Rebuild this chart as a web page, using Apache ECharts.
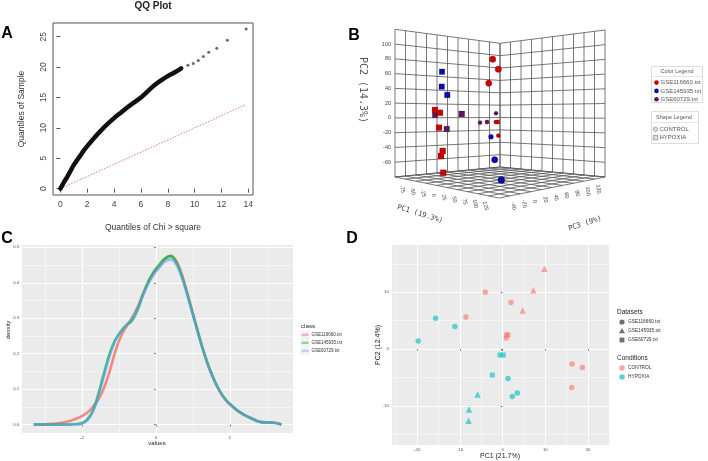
<!DOCTYPE html>
<html><head><meta charset="utf-8">
<script src="https://cdn.jsdelivr.net/npm/echarts@6.0.0/dist/echarts.min.js"></script>
<style>html,body{margin:0;padding:0;background:#fff}#c{width:708px;height:461px}</style>
</head><body><div id="c"></div>
<script>
// ---------------- DATA ----------------
// Panel A : QQ plot
const qqDenseX = [0,0.25,0.5,0.75,1,1.25,1.5,1.75,2,2.5,3,3.5,4,4.5,5,5.5,6,6.5,7,7.5,8,8.5,9];
const qqDenseY = [0,1.0,1.9,2.9,3.9,4.7,5.5,6.3,7.0,8.3,9.5,10.6,11.6,12.5,13.4,14.2,15.0,16.0,17.0,17.8,18.5,19.1,19.8];
const qqTailX = [9.5,9.9,10.27,10.65,11.05,11.65,12.44,13.84];
const qqTailY = [20.3,20.6,21.1,21.75,22.45,23.1,24.4,26.25];
const qqRefX = [0,13.84];
const qqRefY = [0,13.84];
const qqXTicks = [0,2,4,6,8,10,12,14];
const qqYTicks = [0,5,10,15,20,25];

// Panel B : 3D PCA
const b3dNames = ['GSE116660.txt','GSE145935.txt','GSE60729.txt'];
const b3dConditions = ['CONTROL','HYPOXIA'];
const b3dPC1 = [84,97.5,74.5,-60.2,-30.2,-54, -54.5,-42.5,-44.8,-36,-40,-34.5, -59.5,-72.5,-55.8, -79.7,-51.5,-15.7, 4,88.8,130, -62.8,-63.5,-50.2];
const b3dPC2 = [77.8,65.6,48.6,-6.2,-5.0,-26.6, 12.4,9.0,-11,-41.6,-48.6,-70.4, 7,-7,-5.6, 4.6,-13.6,8, -23.2,-44.2,-63.4, 65,44.4,33];
const b3dPC3 = [-20,-20,-20,100,80,100, -20,-20,-20,-20,-20,-20, 100,80,80, 0,0,0, 40,-20,-40, 0,0,0];
const b3dDataset = ['GSE116660.txt','GSE116660.txt','GSE116660.txt','GSE116660.txt','GSE116660.txt','GSE116660.txt',
  'GSE116660.txt','GSE116660.txt','GSE116660.txt','GSE116660.txt','GSE116660.txt','GSE116660.txt',
  'GSE60729.txt','GSE60729.txt','GSE60729.txt','GSE60729.txt','GSE60729.txt','GSE60729.txt',
  'GSE145935.txt','GSE145935.txt','GSE145935.txt','GSE145935.txt','GSE145935.txt','GSE145935.txt'];
const b3dCondition = ['CONTROL','CONTROL','CONTROL','CONTROL','CONTROL','CONTROL',
  'HYPOXIA','HYPOXIA','HYPOXIA','HYPOXIA','HYPOXIA','HYPOXIA',
  'CONTROL','CONTROL','CONTROL','HYPOXIA','HYPOXIA','HYPOXIA',
  'CONTROL','CONTROL','CONTROL','HYPOXIA','HYPOXIA','HYPOXIA'];
const b3dRangePC1 = [-100,150];
const b3dRangePC2 = [-80,120];
const b3dRangePC3 = [-60,140];
const b3dTicksPC1 = [-75,-50,-25,0,25,50,75,100,125];
const b3dTicksPC2 = [-60,-40,-20,0,20,40,60,80,100];
const b3dTicksPC3 = [-40,-20,0,20,40,60,80,100,120];

// Panel C : density
const cClasses = ['GSE116660.txt','GSE145935.txt','GSE60729.txt'];
const cX = [-3.3,-3.0,-2.7,-2.4,-2.2,-2.0,-1.85,-1.7,-1.55,-1.4,-1.25,-1.1,-0.95,-0.8,-0.65,-0.5,-0.35,-0.2,-0.05,0.1,0.25,0.4,0.55,0.7,0.85,1.0,1.15,1.3,1.45,1.6,1.75,1.9,2.05,2.2,2.4,2.6,2.8,3.0,3.2,3.4];
const cGSE116660 = [0,0.001,0.003,0.008,0.015,0.024,0.034,0.05,0.072,0.104,0.15,0.205,0.248,0.276,0.3,0.33,0.368,0.402,0.428,0.447,0.466,0.476,0.462,0.424,0.372,0.314,0.258,0.204,0.158,0.12,0.09,0.068,0.053,0.04,0.027,0.017,0.008,0.006,0.005,0];
const cGSE145935 = [0,0,0,0,0.001,0.004,0.015,0.04,0.088,0.146,0.2,0.238,0.262,0.28,0.292,0.322,0.366,0.404,0.432,0.452,0.469,0.475,0.458,0.42,0.368,0.312,0.256,0.203,0.158,0.121,0.091,0.069,0.054,0.04,0.027,0.017,0.008,0.006,0.005,0];
const cGSE60729 = [0,0,0,0,0.001,0.004,0.013,0.036,0.082,0.138,0.194,0.236,0.263,0.28,0.298,0.326,0.364,0.398,0.424,0.444,0.46,0.466,0.452,0.416,0.366,0.31,0.255,0.202,0.157,0.12,0.09,0.068,0.053,0.04,0.027,0.017,0.008,0.006,0.005,0];
const cXTicks = [-2,0,2];
const cXMinor = [-3,-1,1,3];
const cYTicks = [0,0.1,0.2,0.3,0.4,0.5];
const cYMinor = [0.05,0.15,0.25,0.35,0.45];

// Panel D : 2D PCA
const dPC1 = [9.77,7.19,4.69,-4.06,1.95,-8.59,16.25,18.67,16.17,0.9,1.25,0.85, -19.77,-15.7,-11.17,-0.63,0.16,-2.42,1.25,2.27,3.44,-5.86,-7.89,-7.97];
const dPC2 = [14.1,10.35,6.76,10.0,8.18,5.65,-2.65,-3.24,-6.76,2.5,2.45,1.95, 1.41,5.41,3.94,-1.06,-1.06,-4.59,-5.18,-8.35,-7.76,-8.0,-10.65,-12.65];
const dDataset = ['GSE145935.txt','GSE145935.txt','GSE145935.txt','GSE116660.txt','GSE116660.txt','GSE116660.txt','GSE116660.txt','GSE116660.txt','GSE116660.txt','GSE60729.txt','GSE60729.txt','GSE60729.txt',
  'GSE116660.txt','GSE116660.txt','GSE116660.txt','GSE60729.txt','GSE60729.txt','GSE60729.txt','GSE116660.txt','GSE116660.txt','GSE116660.txt','GSE145935.txt','GSE145935.txt','GSE145935.txt'];
const dCondition = ['CONTROL','CONTROL','CONTROL','CONTROL','CONTROL','CONTROL','CONTROL','CONTROL','CONTROL','CONTROL','CONTROL','CONTROL',
  'HYPOXIA','HYPOXIA','HYPOXIA','HYPOXIA','HYPOXIA','HYPOXIA','HYPOXIA','HYPOXIA','HYPOXIA','HYPOXIA','HYPOXIA','HYPOXIA'];
const dXTicks = [-20,-10,0,10,20];
const dXMinor = [-25,-15,-5,5,15];
const dYTicks = [-10,0,10];
const dYMinor = [-15,-5,5,15];

// ---------------- STYLE ----------------
const FONT = '"Liberation Sans", Arial, sans-serif';
const MONO = '"DejaVu Sans Mono", "Liberation Mono", monospace';
const ggRed = '#F8766D', ggGreen = '#00BA38', ggBlue = '#619CFF', ggCyan = '#00BFC4';
const bColors = {'GSE116660.txt':'#cc0000','GSE145935.txt':'#0a0aa8','GSE60729.txt':'#5c165e'};
const dShapes = {'GSE116660.txt':'circle','GSE145935.txt':'triangle','GSE60729.txt':'rect'};
const dSizes = {'GSE116660.txt':5.5,'GSE145935.txt':6.5,'GSE60729.txt':5};
const dColors = {'CONTROL':ggRed,'HYPOXIA':ggCyan};

// 3D box projection (perspective-like bilinear frame of the plotted box)
const BOX = {L:[395,177], K:[500,167], R:[605,177], F:[499,198], hL:147.7, hK:123.7, hR:147, hF:178};
function proj(pc1, pc2, pc3) {
  const u = (pc1 - b3dRangePC1[0]) / (b3dRangePC1[1] - b3dRangePC1[0]);
  const v = (pc2 - b3dRangePC2[0]) / (b3dRangePC2[1] - b3dRangePC2[0]);
  const w = (pc3 - b3dRangePC3[0]) / (b3dRangePC3[1] - b3dRangePC3[0]);
  const a = (1-u)*(1-w), b = (1-u)*w, c = u*w, d = u*(1-w);
  const x = a*BOX.L[0] + b*BOX.K[0] + c*BOX.R[0] + d*BOX.F[0];
  const fy = a*BOX.L[1] + b*BOX.K[1] + c*BOX.R[1] + d*BOX.F[1];
  const h = a*BOX.hL + b*BOX.hK + c*BOX.hR + d*BOX.hF;
  return {x: x, y: fy - v*h, h: h, depth: u - w};
}

function txt(text, x, y, size, opt) {
  opt = opt || {};
  return {type:'text', x:x, y:y, rotation: opt.rot || 0, silent:true, z:100,
    style:{text:text, fill: opt.color || '#333',
      font: (opt.weight || 'normal') + ' ' + size + 'px ' + (opt.family || FONT),
      textAlign: opt.align || 'center', textVerticalAlign: opt.valign || 'middle'}};
}

// ---------------- SERIES ----------------
const series = [];
// A
series.push({type:'line', xAxisIndex:0, yAxisIndex:0, data: qqRefX.map((x,i)=>[x, qqRefY[i]]),
  showSymbol:false, silent:true, lineStyle:{color:'#e8798c', width:1, type:[1.5,1.5]}, z:2});
series.push({type:'line', xAxisIndex:0, yAxisIndex:0, data: qqDenseX.map((x,i)=>[x, qqDenseY[i]]),
  showSymbol:false, smooth:0.3, silent:true, lineStyle:{color:'#111', width:4.5, cap:'round', join:'round'}, z:3});
series.push({type:'scatter', xAxisIndex:0, yAxisIndex:0, data: qqTailX.map((x,i)=>[x, qqTailY[i]]),
  symbol:'circle', symbolSize:3, silent:true, itemStyle:{color:'#444'}, z:3});

// C
[[cGSE116660, ggRed, 0.85],[cGSE145935, ggGreen, 0.75],[cGSE60729, ggBlue, 0.6]].forEach((s, k) => {
  series.push({type:'line', name:cClasses[k], xAxisIndex:1, yAxisIndex:1, data: cX.map((x,i)=>[x, s[0][i]]),
    showSymbol:false, smooth:0.4, silent:true, lineStyle:{color:s[1], width:2.6, opacity:s[2]}, z:3+k});
});

// D
const dGroups = {};
dPC1.forEach((x,i) => {
  const key = dDataset[i] + '|' + dCondition[i];
  (dGroups[key] = dGroups[key] || {ds:dDataset[i], cond:dCondition[i], data:[]}).data.push([x, dPC2[i]]);
});
Object.values(dGroups).forEach(g => {
  series.push({type:'scatter', xAxisIndex:3, yAxisIndex:3, data:g.data, symbol:dShapes[g.ds],
    symbolSize:dSizes[g.ds], silent:true, itemStyle:{color:dColors[g.cond], opacity:0.62}, z:4});
});

// B grid (walls + floor) and tick labels
const all1 = [b3dRangePC1[0]].concat(b3dTicksPC1, [b3dRangePC1[1]]);
const all2 = [b3dRangePC2[0]].concat(b3dTicksPC2, [b3dRangePC2[1]]);
const all3 = [b3dRangePC3[0]].concat(b3dTicksPC3, [b3dRangePC3[1]]);
series.push({type:'custom', coordinateSystem:'none', silent:true, z:1, data:[0],
  renderItem: function () {
    const kids = [];
    const seg = (p, q) => kids.push({type:'line', shape:{x1:p.x, y1:p.y, x2:q.x, y2:q.y},
      style:{stroke:'#555', lineWidth:0.8}});
    const p1a = b3dRangePC1[0], p1b = b3dRangePC1[1], p2a = b3dRangePC2[0], p2b = b3dRangePC2[1], p3a = b3dRangePC3[0], p3b = b3dRangePC3[1];
    // left wall (pc1 = min)
    all3.forEach(z => seg(proj(p1a, p2a, z), proj(p1a, p2b, z)));
    all2.forEach(y => seg(proj(p1a, y, p3a), proj(p1a, y, p3b)));
    // right wall (pc3 = max)
    all1.forEach(x => seg(proj(x, p2a, p3b), proj(x, p2b, p3b)));
    all2.forEach(y => seg(proj(p1a, y, p3b), proj(p1b, y, p3b)));
    // floor (pc2 = min)
    all1.forEach(x => seg(proj(x, p2a, p3a), proj(x, p2a, p3b)));
    all3.forEach(z => seg(proj(p1a, p2a, z), proj(p1b, p2a, z)));
    // tick labels
    b3dTicksPC2.forEach(y => { const p = proj(p1a, y, p3a);
      kids.push({type:'text', x:p.x - 4, y:p.y, style:{text:String(y), fill:'#444', font:'5.5px ' + FONT, textAlign:'right', textVerticalAlign:'middle'}}); });
    b3dTicksPC1.forEach(x => { const p = proj(x, p2a, p3a);
      kids.push({type:'text', x:p.x - 3, y:p.y + 10, rotation:-1.35, style:{text:String(x), fill:'#444', font:'5.5px ' + FONT, textAlign:'center', textVerticalAlign:'middle'}}); });
    b3dTicksPC3.forEach(z => { const p = proj(p1b, p2a, z);
      kids.push({type:'text', x:p.x + 4, y:p.y + 10, rotation:-1.45, style:{text:String(z), fill:'#444', font:'5.5px ' + FONT, textAlign:'center', textVerticalAlign:'middle'}}); });
    return {type:'group', children:kids};
  }});
// B points
series.push({type:'custom', coordinateSystem:'none', silent:true, z:5, data: b3dPC1.map((x,i)=>[x, b3dPC2[i], b3dPC3[i]]),
  renderItem: function (params, api) {
    const i = params.dataIndex;
    const p = proj(api.value(0), api.value(1), api.value(2));
    const col = bColors[b3dDataset[i]];
    const k = Math.pow(p.h / 148, 2);
    const z2 = Math.round((p.depth + 1) * 100);
    if (b3dCondition[i] === 'CONTROL') {
      const r = 2.6 * k;
      return {type:'circle', z2:z2, shape:{cx:p.x, cy:p.y, r:r}, style:{fill:col, stroke:'rgba(0,0,0,0.25)', lineWidth:0.5}};
    }
    const s = 5.8 * k;
    return {type:'rect', z2:z2, shape:{x:p.x - s/2, y:p.y - s/2, width:s, height:s}, style:{fill:col, stroke:'rgba(0,0,0,0.3)', lineWidth:0.5}};
  }});

// ---------------- GRAPHIC (titles / legends) ----------------
const g = [];
// panel letters
g.push(txt('A', 7, 34, 16, {weight:'bold', color:'#000'}));
g.push(txt('B', 354, 36, 16, {weight:'bold', color:'#000'}));
g.push(txt('C', 7, 239, 16, {weight:'bold', color:'#000'}));
g.push(txt('D', 352, 239, 16, {weight:'bold', color:'#000'}));
// A titles
g.push(txt('QQ Plot', 153, 6, 10, {weight:'bold', color:'#222'}));
g.push(txt('Quantiles of Sample', 22, 109, 8.5, {rot:Math.PI/2, color:'#333'}));
g.push(txt('Quantiles of Chi > square', 153, 228, 8.5, {color:'#333'}));
// B titles
g.push(txt('PC2 (14.3%)', 363, 90, 10, {rot:-Math.PI/2, color:'#555', family:MONO}));
g.push(txt('PC1 (19.3%)', 420, 214, 7.2, {rot:-0.3, color:'#444', family:MONO}));
g.push(txt('PC3 (9%)', 585, 223.5, 7.2, {rot:0.32, color:'#444', family:MONO}));
// B legends
g.push({type:'rect', shape:{x:651.5, y:66.5, width:51, height:36}, style:{fill:'#fff', stroke:'#dcdcdc', lineWidth:1}, silent:true, z:90});
g.push({type:'line', shape:{x1:652, y1:76.5, x2:702, y2:76.5}, style:{stroke:'#e6e6e6', lineWidth:1}, silent:true, z:91});
g.push(txt('Color Legend', 677, 71.8, 5.5, {color:'#555'}));
b3dNames.forEach((n, k) => {
  const y = 82.6 + k*8.3;
  g.push({type:'circle', shape:{cx:656.5, cy:y, r:2.3}, style:{fill:bColors[n]}, silent:true, z:95});
  g.push(txt(n, 660.5, y, 6, {align:'left', color:'#555'}));
});
g.push({type:'rect', shape:{x:651.5, y:111.5, width:47, height:32}, style:{fill:'#fff', stroke:'#dcdcdc', lineWidth:1}, silent:true, z:90});
g.push({type:'line', shape:{x1:652, y1:122.5, x2:698, y2:122.5}, style:{stroke:'#e6e6e6', lineWidth:1}, silent:true, z:91});
g.push(txt('Shape Legend', 674, 117.3, 5.5, {color:'#555'}));
g.push({type:'circle', shape:{cx:655.5, cy:129.3, r:2.2}, style:{fill:'#ddd', stroke:'#777', lineWidth:0.6}, silent:true, z:95});
g.push({type:'rect', shape:{x:653.3, y:135.5, width:4.4, height:4.4}, style:{fill:'#ddd', stroke:'#777', lineWidth:0.6}, silent:true, z:95});
g.push(txt(b3dConditions[0], 659.5, 129.3, 6, {align:'left', color:'#555'}));
g.push(txt(b3dConditions[1], 659.5, 137.7, 6, {align:'left', color:'#555'}));
// C titles + legend
g.push(txt('density', 8, 330, 5.8, {rot:Math.PI/2, color:'#222'}));
g.push(txt('values', 157, 443, 6, {color:'#222'}));
g.push(txt('class', 301, 326, 6.2, {align:'left', color:'#222'}));
[[ggRed,0.85],[ggGreen,0.75],[ggBlue,0.6]].forEach((c, k) => {
  const y = 334.8 + k*8;
  g.push({type:'rect', shape:{x:300.5, y:y-4, width:9, height:8}, style:{fill:'#F2F2F2'}, silent:true, z:90});
  g.push({type:'line', shape:{x1:301.5, y1:y, x2:308.5, y2:y}, style:{stroke:c[0], lineWidth:2, opacity:c[1]*0.7}, silent:true, z:95});
  g.push(txt(cClasses[k], 311.5, y, 4.5, {align:'left', color:'#333'}));
});
// D titles + legends
g.push(txt('PC2 (12.4%)', 378, 345, 7, {rot:Math.PI/2, color:'#222'}));
g.push(txt('PC1 (21.7%)', 500, 456.5, 7, {color:'#222'}));
g.push(txt('Datasets', 617, 312.5, 6.5, {align:'left', color:'#222'}));
b3dNames.forEach((n, k) => {
  const y = 322 + k*9;
  const sym = dShapes[n];
  if (sym === 'circle') g.push({type:'circle', shape:{cx:622, cy:y, r:2.6}, style:{fill:'#555', opacity:0.85}, silent:true, z:95});
  else if (sym === 'triangle') g.push({type:'polygon', shape:{points:[[622,y-3],[625,y+2.3],[619,y+2.3]]}, style:{fill:'#555', opacity:0.85}, silent:true, z:95});
  else g.push({type:'rect', shape:{x:619.6, y:y-2.4, width:4.8, height:4.8}, style:{fill:'#555', opacity:0.85}, silent:true, z:95});
  g.push(txt(n, 628, y, 4.8, {align:'left', color:'#333'}));
});
g.push(txt('Conditions', 617, 358.5, 6.5, {align:'left', color:'#222'}));
b3dConditions.forEach((n, k) => {
  const y = 368 + k*9;
  g.push({type:'circle', shape:{cx:622, cy:y, r:2.8}, style:{fill:dColors[n], opacity:0.65}, silent:true, z:95});
  g.push(txt(n, 628, y, 4.8, {align:'left', color:'#333'}));
});

// ---------------- AXES ----------------
function valAxis(o) {
  return Object.assign({type:'value', scale:true, axisLine:{show:false}, splitLine:{show:false}, minorTick:{show:false}}, o);
}
const xAxes = [
  valAxis({gridIndex:0, min:-0.55, max:14.35,
    axisTick:{show:true, length:4, lineStyle:{color:'#555'}, customValues:qqXTicks},
    axisLabel:{customValues:qqXTicks, fontSize:8.5, color:'#444', margin:5, fontFamily:FONT}}),
  valAxis({gridIndex:1, min:-3.62, max:3.71,
    axisTick:{show:true, length:2, lineStyle:{color:'#333', width:0.6}, customValues:cXTicks},
    axisLabel:{customValues:cXTicks, fontSize:4.2, color:'#4D4D4D', margin:3, fontFamily:FONT},
    splitLine:{show:true, lineStyle:{color:'#fff', width:1}}}),
  valAxis({gridIndex:1, position:'top', min:-3.62, max:3.71,
    axisTick:{show:false, customValues:cXMinor}, axisLabel:{show:false},
    splitLine:{show:true, lineStyle:{color:'#fff', width:0.5}}}),
  valAxis({gridIndex:2, min:-25.9, max:24.9,
    axisTick:{show:true, length:2, lineStyle:{color:'#333', width:0.6}, customValues:dXTicks},
    axisLabel:{customValues:dXTicks, fontSize:4.4, color:'#4D4D4D', margin:3, fontFamily:FONT},
    splitLine:{show:true, lineStyle:{color:'#fff', width:1}}}),
  valAxis({gridIndex:2, position:'top', min:-25.9, max:24.9,
    axisTick:{show:false, customValues:dXMinor}, axisLabel:{show:false},
    splitLine:{show:true, lineStyle:{color:'#fff', width:0.5}}})
];
const yAxes = [
  valAxis({gridIndex:0, min:-1.05, max:27.25,
    axisTick:{show:true, length:4, lineStyle:{color:'#555'}, customValues:qqYTicks},
    axisLabel:{customValues:qqYTicks, rotate:90, fontSize:8.5, color:'#444', margin:5, fontFamily:FONT}}),
  valAxis({gridIndex:1, min:-0.0237, max:0.5065,
    axisTick:{show:true, length:2, lineStyle:{color:'#333', width:0.6}, customValues:cYTicks},
    axisLabel:{customValues:cYTicks, fontSize:4.2, color:'#4D4D4D', margin:3, fontFamily:FONT, formatter:v=>Number(v).toFixed(1)},
    splitLine:{show:true, lineStyle:{color:'#fff', width:1}}}),
  valAxis({gridIndex:1, position:'right', min:-0.0237, max:0.5065,
    axisTick:{show:false, customValues:cYMinor}, axisLabel:{show:false},
    splitLine:{show:true, lineStyle:{color:'#fff', width:0.5}}}),
  valAxis({gridIndex:2, min:-16.9, max:18.3,
    axisTick:{show:true, length:2, lineStyle:{color:'#333', width:0.6}, customValues:dYTicks},
    axisLabel:{customValues:dYTicks, fontSize:4.4, color:'#4D4D4D', margin:3, fontFamily:FONT},
    splitLine:{show:true, lineStyle:{color:'#fff', width:1}}}),
  valAxis({gridIndex:2, position:'right', min:-16.9, max:18.3,
    axisTick:{show:false, customValues:dYMinor}, axisLabel:{show:false},
    splitLine:{show:true, lineStyle:{color:'#fff', width:0.5}}})
];

const chart = echarts.init(document.getElementById('c'), null, {renderer:'canvas', width:708, height:461});
chart.setOption({
  animation:false,
  backgroundColor:'#ffffff',
  grid:[
    {left:53, top:23, width:200, height:172, show:true, borderColor:'#555', borderWidth:1, backgroundColor:'transparent'},
    {left:22, top:245, width:271, height:188, show:true, borderWidth:0, backgroundColor:'#EBEBEB'},
    {left:392, top:245, width:217, height:200, show:true, borderWidth:0, backgroundColor:'#EBEBEB'}
  ],
  xAxis:xAxes,
  yAxis:yAxes,
  series:series,
  graphic:{elements:g}
});
</script></body></html>
